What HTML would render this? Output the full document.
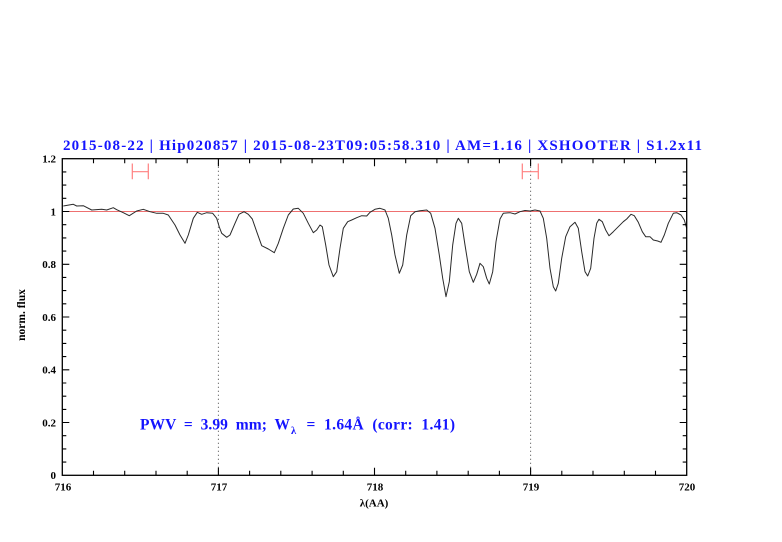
<!DOCTYPE html>
<html><head><meta charset="utf-8"><style>
html,body{margin:0;padding:0;background:#fff;}
svg{display:block;}
text{font-family:"Liberation Serif",serif;}
</style></head><body>
<svg width="782" height="542" viewBox="0 0 782 542" xmlns="http://www.w3.org/2000/svg">
<rect width="782" height="542" fill="#fff"/>
<!-- title -->
<text x="63" y="150" font-size="15" font-weight="bold" fill="#1414ff" textLength="639" lengthAdjust="spacing" style="white-space:pre">2015-08-22 | Hip020857 | 2015-08-23T09:05:58.310 | AM=1.16 | XSHOOTER | S1.2x11</text>

<!-- reference line at 1 -->
<line x1="62.3" y1="211.5" x2="686.7" y2="211.5" stroke="#ee7070" stroke-width="1"/>

<!-- dotted lines -->
<line x1="218.4" y1="158.7" x2="218.4" y2="475.3" stroke="#444" stroke-width="1" stroke-dasharray="1,3"/>
<line x1="530.6" y1="158.7" x2="530.6" y2="475.3" stroke="#444" stroke-width="1" stroke-dasharray="1,3"/>

<!-- error bars -->
<g stroke="#ff8080" stroke-width="1.2" fill="none">
<path d="M132.3 171.7H148.3M132.3 163.5V179.3M148.3 163.5V179.3"/>
<path d="M522.3 171.7H538.3M522.3 163.5V179.3M538.3 163.5V179.3"/>
</g>

<!-- spectrum -->
<polyline fill="none" stroke="#2a2a2a" stroke-width="1" stroke-linejoin="round" points="63.3,206 73.3,204.3 76.7,206 83.3,205.7 91.7,210 101.7,209.3 106.7,210 113.3,207.7 116.7,209.7 123.3,212.7 129.3,215.7 136.7,211 143.3,209.3 150,211.7 156.7,213.3 163.3,213.3 168.3,215 175,225 180,235 185,243.3 188.3,235 193.3,218.3 197.3,212.3 201.7,214.3 206.7,212.7 212.7,213.3 216.7,218.3 219.3,227 221.7,233.3 226.7,237.3 230,235 235,223.3 239,214.3 244,211.7 248.3,214.3 252.3,219 256.7,231.7 261.7,245.7 268.3,249 274.3,252.7 278.3,243.3 283.3,228.3 288.3,215 293.3,209 298.3,208.3 303.3,213.3 308.3,223.3 313.3,232.7 316.7,230 320,225 322.3,226.7 325.7,245 329,265 333.3,276.7 336.7,271.7 340,248.3 343.3,228.3 347.7,221.7 351.7,220 356.7,217.7 361.7,215.7 366.7,216 370,212.3 375,209.3 380,208.3 385,210 388.3,218.3 391.7,235 395,255 399.3,273.3 402.7,265 406.7,235 410.7,215.7 415,211.7 420,210.7 426.7,210 430.7,213.3 435,228.3 439.3,255 442.7,278.3 446,296.7 449.3,281.7 452.7,245 456,223.3 458.3,218.3 461.7,223.3 465,245 469.3,271.7 473.3,282.3 476.7,274.3 480,263.3 483.3,266.7 486.7,278.3 489.3,284 492.7,271.7 496,241.7 500,219 503.3,213.3 510,212.7 515,214 520,211.7 525,210.5 530,211 535,210 540,211 543.3,218.3 546.7,238.3 550,268.3 553.3,286.7 555.7,291 558.3,283.3 561.7,258.3 565.7,236.7 570,226.7 575,222.3 578.3,228.3 581.7,251.7 585,271.7 587.7,276 590.7,268.3 594,238.3 596.7,223.3 599,219.3 602.3,221.7 605.7,230 609,235.7 613.3,231.7 618.3,226.7 623.3,221.7 626.7,219 631,214.3 634.3,215.7 638.3,222.3 642.3,231.7 645.7,236.7 650,236.7 653.3,240 657.7,241 661,242.3 664.3,235 668.3,223.3 673.3,213.3 676.7,212.7 681,215 684.3,220 686.7,228.3"/>

<!-- frame -->
<rect x="62.3" y="158.7" width="624.4" height="316.6" fill="none" stroke="#000" stroke-width="1.3"/>

<!-- ticks -->
<g stroke="#000" stroke-width="1.1" fill="none">
<path d="M218.4 475.3v-7.5M374.5 475.3v-7.5M530.6 475.3v-7.5
M93.5 475.3v-4.5M124.7 475.3v-4.5M156 475.3v-4.5M187.2 475.3v-4.5M249.6 475.3v-4.5M280.8 475.3v-4.5M312.1 475.3v-4.5M343.3 475.3v-4.5M405.7 475.3v-4.5M436.9 475.3v-4.5M468.2 475.3v-4.5M499.4 475.3v-4.5M561.8 475.3v-4.5M593 475.3v-4.5M624.3 475.3v-4.5M655.5 475.3v-4.5"/>
<path d="M218.4 158.7v7.5M374.5 158.7v7.5M530.6 158.7v7.5
M93.5 158.7v4.5M124.7 158.7v4.5M156 158.7v4.5M187.2 158.7v4.5M249.6 158.7v4.5M280.8 158.7v4.5M312.1 158.7v4.5M343.3 158.7v4.5M405.7 158.7v4.5M436.9 158.7v4.5M468.2 158.7v4.5M499.4 158.7v4.5M561.8 158.7v4.5M593 158.7v4.5M624.3 158.7v4.5M655.5 158.7v4.5"/>
<path d="M62.3 422.5h7M62.3 369.8h7M62.3 317h7M62.3 264.3h7M62.3 211.5h7
M62.3 462.1h4M62.3 448.9h4M62.3 435.7h4M62.3 409.4h4M62.3 396.2h4M62.3 383h4M62.3 356.6h4M62.3 343.4h4M62.3 330.2h4M62.3 303.8h4M62.3 290.6h4M62.3 277.4h4M62.3 251.1h4M62.3 237.9h4M62.3 224.7h4M62.3 198.3h4M62.3 185.1h4M62.3 171.9h4"/>
<path d="M686.7 422.5h-7M686.7 369.8h-7M686.7 317h-7M686.7 264.3h-7M686.7 211.5h-7
M686.7 462.1h-4M686.7 448.9h-4M686.7 435.7h-4M686.7 409.4h-4M686.7 396.2h-4M686.7 383h-4M686.7 356.6h-4M686.7 343.4h-4M686.7 330.2h-4M686.7 303.8h-4M686.7 290.6h-4M686.7 277.4h-4M686.7 251.1h-4M686.7 237.9h-4M686.7 224.7h-4M686.7 198.3h-4M686.7 185.1h-4M686.7 171.9h-4"/>
</g>

<!-- y tick labels -->
<g font-size="11" font-weight="bold" fill="#000" text-anchor="end">
<text x="56" y="162.5">1.2</text>
<text x="56" y="215.3">1</text>
<text x="56" y="268">0.8</text>
<text x="56" y="320.8">0.6</text>
<text x="56" y="373.5">0.4</text>
<text x="56" y="426.3">0.2</text>
<text x="56" y="479">0</text>
</g>
<!-- x tick labels -->
<g font-size="11" font-weight="bold" fill="#000" text-anchor="middle">
<text x="63" y="490.5">716</text>
<text x="219" y="490.5">717</text>
<text x="375" y="490.5">718</text>
<text x="531" y="490.5">719</text>
<text x="687" y="490.5">720</text>
</g>

<!-- axis labels -->
<text x="374" y="506.5" font-size="11" font-weight="bold" fill="#000" text-anchor="middle">λ(AA)</text>
<text transform="translate(25 315) rotate(-90)" font-size="11.5" font-weight="bold" fill="#000" text-anchor="middle">norm. flux</text>

<!-- PWV annotation -->
<g fill="#1414ff" font-weight="bold">
<text x="140" y="429.3" font-size="15.5" textLength="150" lengthAdjust="spacing" style="white-space:pre">PWV  =  3.99  mm;  W</text>
<text x="291" y="434" font-size="10.5">λ</text>
<text x="306.5" y="429.3" font-size="15.5" textLength="148.5" lengthAdjust="spacing" style="white-space:pre">=  1.64Å  (corr:  1.41)</text>
</g>
</svg>
</body></html>
